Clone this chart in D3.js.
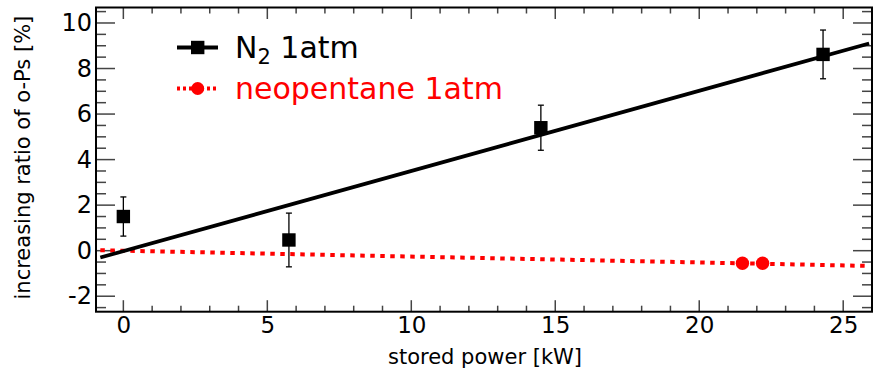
<!DOCTYPE html>
<html>
<head>
<meta charset="utf-8">
<script src="https://cdn.jsdelivr.net/npm/d3@7"></script>
<style>
  body { margin: 0; background: #fff; }
  svg { display: block; font-family: "DejaVu Sans", sans-serif; }
</style>
</head>
<body>
<svg id="chart"></svg>
<script>
// N2 1atm measurements
const n2Power = [0, 5.75, 14.5, 24.3];
const n2Ratio = [1.5, 0.47, 5.4, 8.62];
const n2Err = [0.86, 1.18, 0.99, 1.07];

// neopentane 1atm measurements
const neoPower = [21.5, 22.2];
const neoRatio = [-0.55, -0.55];

// fitted lines (end points)
const fitPower = [-0.8, 25.9];
const n2FitRatio = [-0.3, 9.1];
const neoFitRatio = [0.02, -0.67];

const xTicks = [0, 5, 10, 15, 20, 25];
const yTicks = [-2, 0, 2, 4, 6, 8, 10];

const width = 873, height = 375;
const pLeft = 96, pRight = 872, pTop = 7.5, pBottom = 311.7;

const svg = d3.select('#chart')
	.attr('width', width)
	.attr('height', height);

const xScale = d3.scaleLinear().domain([-0.95, 26]).range([pLeft, pRight]);
const yScale = d3.scaleLinear().domain([-2.68, 10.68]).range([pBottom, pTop]);

const xMinor = d3.range(0, 26.01, 1);
const yMinor = d3.range(-2.5, 10.51, 0.5);

// tick marks (inside the frame, on all four sides)
const tickCol = '#444';
const g = svg.append('g');

function ticks(vals, isMajor, axis) {
	vals.forEach(v => {
		if (axis === 'x') {
			const len = isMajor ? 11.5 : 6;
			const x = xScale(v);
			g.append('line').attr('x1', x).attr('x2', x).attr('y1', pBottom).attr('y2', pBottom - len)
				.attr('stroke', tickCol).attr('stroke-width', 1.5);
			g.append('line').attr('x1', x).attr('x2', x).attr('y1', pTop).attr('y2', pTop + len)
				.attr('stroke', tickCol).attr('stroke-width', 1.5);
		} else {
			const len = isMajor ? 19 : 10;
			const y = yScale(v);
			g.append('line').attr('x1', pLeft).attr('x2', pLeft + len).attr('y1', y).attr('y2', y)
				.attr('stroke', tickCol).attr('stroke-width', 1.5);
			g.append('line').attr('x1', pRight).attr('x2', pRight - len).attr('y1', y).attr('y2', y)
				.attr('stroke', tickCol).attr('stroke-width', 1.5);
		}
	});
}
ticks(xMinor.filter(v => v % 5 !== 0), false, 'x');
ticks(xTicks, true, 'x');
ticks(yMinor.filter(v => v % 2 !== 0), false, 'y');
ticks(yTicks, true, 'y');

// tick labels via d3 axes (tick lines hidden), plain hyphen for negatives
const fmt = d => String(d);
const xAxis = d3.axisBottom(xScale).tickValues(xTicks).tickFormat(fmt).tickSize(0).tickPadding(5);
svg.append('g')
	.attr('transform', `translate(0, ${pBottom})`)
	.call(xAxis)
	.call(s => s.select('.domain').remove())
	.call(s => s.selectAll('text').attr('font-size', 23).attr('font-family', 'DejaVu Sans').attr('fill', '#000'));

const yAxis = d3.axisLeft(yScale).tickValues(yTicks).tickFormat(fmt).tickSize(0).tickPadding(4);
svg.append('g')
	.attr('transform', `translate(${pLeft}, 0)`)
	.call(yAxis)
	.call(s => s.select('.domain').remove())
	.call(s => s.selectAll('text').attr('font-size', 24).attr('font-family', 'DejaVu Sans').attr('fill', '#000'));

// frame
svg.append('rect')
	.attr('x', pLeft).attr('y', pTop)
	.attr('width', pRight - pLeft).attr('height', pBottom - pTop)
	.attr('fill', 'none').attr('stroke', '#000').attr('stroke-width', 2);

// axis titles
svg.append('text')
	.attr('x', (pLeft + pRight) / 2 + 1).attr('y', 364)
	.attr('text-anchor', 'middle').attr('font-size', 21)
	.text('stored power [kW]');

svg.append('text')
	.attr('transform', `translate(30, ${(pTop + pBottom) / 2 - 2}) rotate(-90)`)
	.attr('text-anchor', 'middle').attr('font-size', 21)
	.text('increasing ratio of o-Ps [%]');

const line = d3.line().x(d => xScale(d[0])).y(d => yScale(d[1]));

// neopentane fit
svg.append('path')
	.datum(d3.zip(fitPower, neoFitRatio))
	.attr('d', line)
	.attr('fill', 'none').attr('stroke', '#ff0000')
	.attr('stroke-width', 4).attr('stroke-dasharray', '4.5,5.5');

// N2 fit
svg.append('path')
	.datum(d3.zip(fitPower, n2FitRatio))
	.attr('d', line)
	.attr('fill', 'none').attr('stroke', '#000')
	.attr('stroke-width', 3.8);

// N2 error bars + markers
const n2Data = d3.zip(n2Power, n2Ratio, n2Err);
const eb = svg.append('g').attr('stroke', '#000').attr('stroke-width', 1.3);
n2Data.forEach(([x, y, e]) => {
	const px = xScale(x);
	eb.append('line').attr('x1', px).attr('x2', px).attr('y1', yScale(y + e)).attr('y2', yScale(y - e));
	eb.append('line').attr('x1', px - 3).attr('x2', px + 3).attr('y1', yScale(y + e)).attr('y2', yScale(y + e));
	eb.append('line').attr('x1', px - 3).attr('x2', px + 3).attr('y1', yScale(y - e)).attr('y2', yScale(y - e));
});
svg.append('g').selectAll('rect')
	.data(n2Data)
	.join('rect')
	.attr('x', d => xScale(d[0]) - 6.7)
	.attr('y', d => yScale(d[1]) - 6.7)
	.attr('width', 13.4).attr('height', 13.4)
	.attr('fill', '#000');

// neopentane markers
svg.append('g').selectAll('circle')
	.data(d3.zip(neoPower, neoRatio))
	.join('circle')
	.attr('cx', d => xScale(d[0]))
	.attr('cy', d => yScale(d[1]))
	.attr('r', 6.7)
	.attr('fill', '#ff0000');

// legend
const leg = svg.append('g');
leg.append('line').attr('x1', 177).attr('x2', 218).attr('y1', 47.5).attr('y2', 47.5)
	.attr('stroke', '#000').attr('stroke-width', 3.8);
leg.append('rect').attr('x', 191).attr('y', 40.8).attr('width', 13.4).attr('height', 13.4).attr('fill', '#000');
const t1 = leg.append('text').attr('x', 235).attr('y', 58.3).attr('font-size', 30);
t1.append('tspan').text('N');
t1.append('tspan').attr('font-size', 21).attr('dy', 6).text('2');
t1.append('tspan').attr('dy', -6).text(' 1atm');

leg.append('line').attr('x1', 177).attr('x2', 218).attr('y1', 88.5).attr('y2', 88.5)
	.attr('stroke', '#ff0000').attr('stroke-width', 4).attr('stroke-dasharray', '3,3');
leg.append('circle').attr('cx', 197.7).attr('cy', 88.5).attr('r', 6.5).attr('fill', '#ff0000');
leg.append('text').attr('x', 235).attr('y', 99).attr('font-size', 30).attr('fill', '#ff0000')
	.text('neopentane 1atm');
</script>
</body>
</html>
